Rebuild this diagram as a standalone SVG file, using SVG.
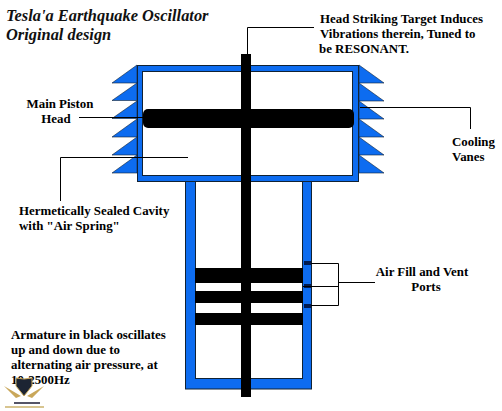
<svg xmlns="http://www.w3.org/2000/svg" width="502" height="411" viewBox="0 0 502 411">
<style>
text{font-family:"Liberation Serif","Times New Roman",serif;font-weight:bold;font-size:12.9px;fill:#000}
.t{font-style:italic;font-size:16.4px;fill:#111}
.m{text-anchor:middle}
.b{fill:#0d6cf0;stroke:#123;stroke-width:1}
.w{fill:#fff;stroke:#123;stroke-width:1}
.v{fill:#0d6cf0;stroke:#123;stroke-width:.6}
.k{fill:#000}
.l{fill:none;stroke:#000;stroke-width:1}
</style>
<rect width="502" height="411" fill="#fff"/>
<g id="vanes-left">
<path class="v" d="M137 65L112 83H137Z"/><path class="v" d="M137 83L112 100.500H137Z"/><path class="v" d="M137 101L112 118.500H137Z"/><path class="v" d="M137 119L112 137H137Z"/><path class="v" d="M137 137L112 155H137Z"/><path class="v" d="M137 155L112 173H137Z"/>
</g>
<g id="vanes-right">
<path class="v" d="M359 65L384 83H359Z"/><path class="v" d="M359 83L384 101H359Z"/><path class="v" d="M359 101L384 119H359Z"/><path class="v" d="M359 119L384 137H359Z"/><path class="v" d="M359 137L384 155H359Z"/><path class="v" d="M359 155L384 173H359Z"/>
</g>
<g id="cylinder">
<rect class="b" x="185.500" y="170" width="126" height="219"/>
<rect class="w" x="195.500" y="170" width="107" height="208.500"/>
</g>
<g id="head">
<rect class="b" x="137.500" y="65.500" width="221" height="116"/>
<rect class="w" x="142.500" y="71.500" width="210" height="104"/>
</g>
<g id="armature">
<rect class="k" x="143" y="109" width="211" height="19" rx="5"/>
<rect class="k" x="195" y="268" width="108" height="15"/>
<rect class="k" x="195" y="291" width="108" height="12"/>
<rect class="k" x="195" y="313" width="108" height="12"/>
<rect class="k" x="241" y="54" width="10" height="343"/>
</g>
<g id="ports">
<rect x="304" y="261" width="7" height="4" fill="#001a50"/>
<rect x="304" y="284" width="7" height="4" fill="#001a50"/>
<rect x="304" y="304" width="7" height="4" fill="#001a50"/>
</g>
<g id="connectors">
<path class="l" d="M247.500 54V27.500H314"/>
<path class="l" d="M79 117.500H143"/>
<path class="l" d="M188 157.500H60.500V201"/>
<path class="l" d="M360 107.500H470.500V129"/>
<path class="l" d="M311 263.500H338.500V305.500H311M303 286.500H338.500M338.500 282.500H375"/>
</g>
<g id="labels">
<text class="t" x="6" y="21">Tesla'a Earthquake Oscillator</text>
<text class="t" x="6" y="40">Original design</text>
<text x="320" y="23">Head Striking Target Induces</text>
<text x="320" y="38">Vibrations therein, Tuned to</text>
<text x="319" y="53">be RESONANT.</text>
<text class="m" x="60" y="108">Main Piston</text>
<text class="m" x="56" y="123">Head</text>
<text x="452" y="146">Cooling</text>
<text x="452" y="161">Vanes</text>
<text x="19" y="215">Hermetically Sealed Cavity</text>
<text x="19" y="230">with "Air Spring"</text>
<text class="m" x="422" y="276">Air Fill and Vent</text>
<text class="m" x="426" y="291">Ports</text>
<text x="11" y="339">Armature in black oscillates</text>
<text x="11" y="354">up and down due to</text>
<text x="11" y="369">alternating air pressure, at</text>
<text x="11" y="384">10-2500Hz</text>
</g>
<g id="watermark">
<path d="M4 386L21 396 16 398ZM44 386L27 396 32 398Z" fill="#c9a75a"/>
<path d="M16 378Q24 380 32 378V386L24 396 16 386Z" fill="#1c2433" stroke="#c9a75a"/>
<rect x="14" y="402" width="26" height="2" fill="#556"/>
<rect x="5" y="406" width="39" height="2" fill="#d8c590"/>
</g>
</svg>
